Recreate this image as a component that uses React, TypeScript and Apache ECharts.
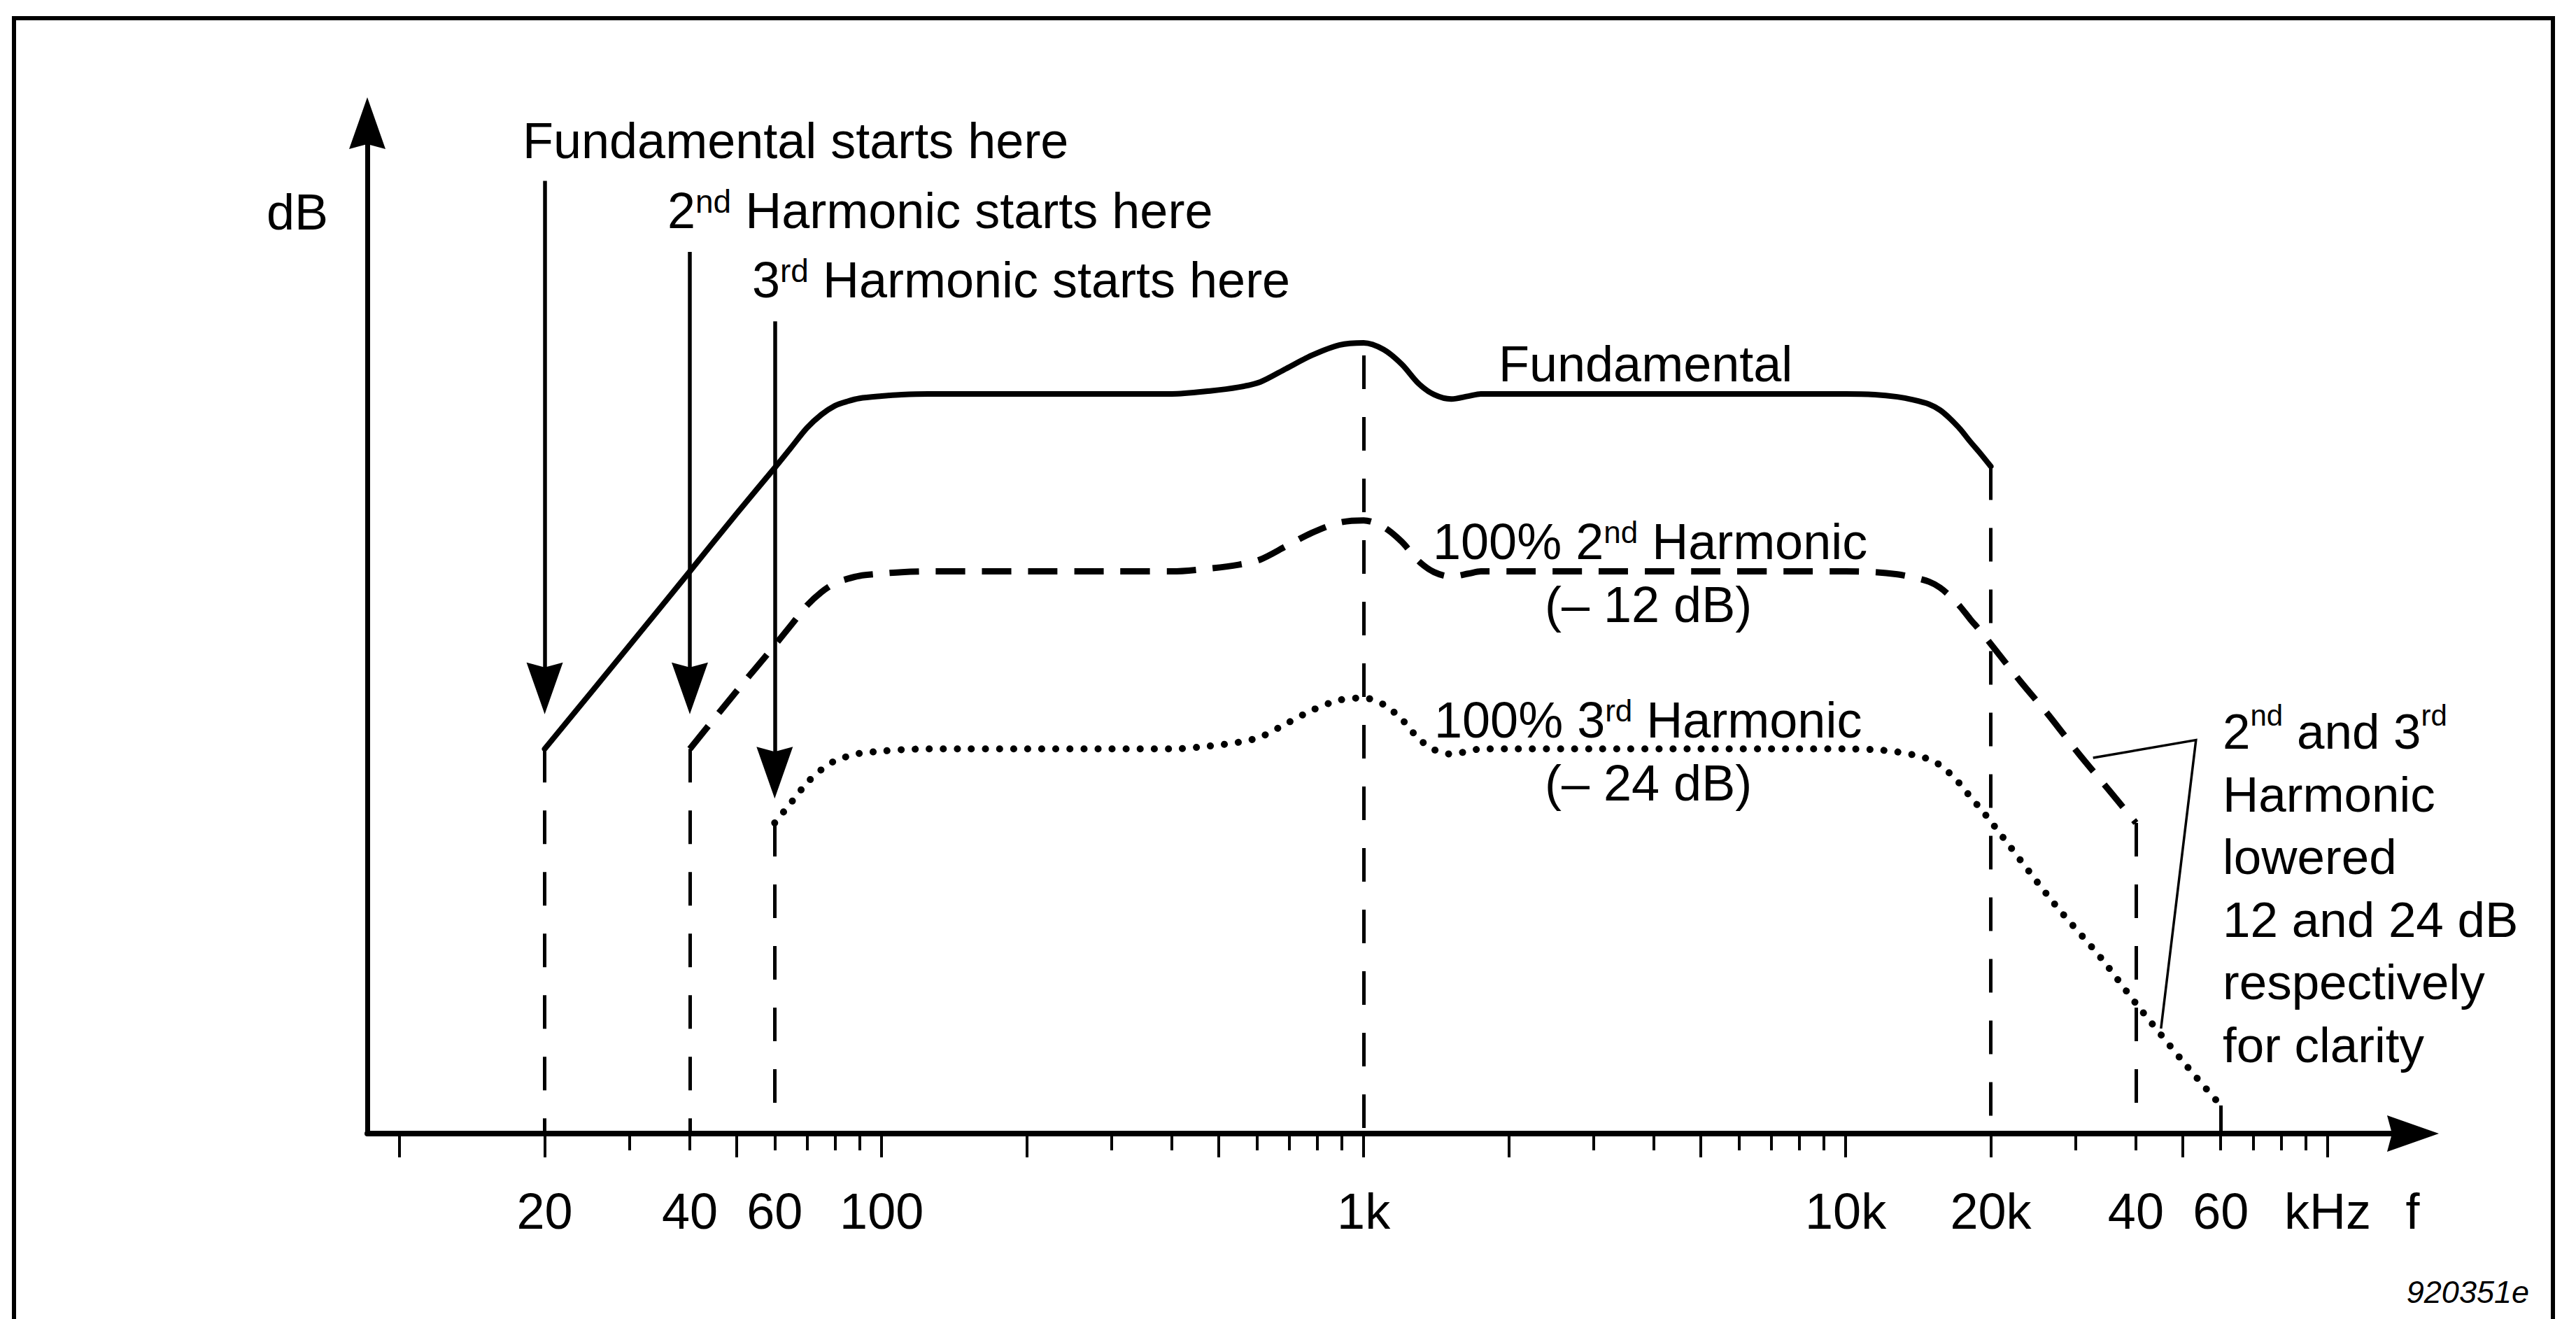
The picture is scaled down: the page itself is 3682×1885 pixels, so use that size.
import React, { useEffect, useRef } from 'react';
import * as echarts from 'echarts';

// ---------- data (frequency in Hz, level in dB above the f-axis) ----------
const FREQ_F = [20, 30, 40, 50, 60, 65, 70, 75, 80, 85, 90, 100, 110, 125, 150, 200, 300, 400, 480, 550, 610, 690, 780, 890, 1000, 1100, 1200, 1300, 1400, 1520, 1650, 1750, 2000, 3000, 5000, 8000, 10000, 11500, 12800, 13800, 14900, 15700, 16500, 17300, 18100, 19000, 20000];
const DB_F = [26.0, 33.0, 38.0, 41.9, 45.0, 46.4, 47.7, 48.6, 49.2, 49.5, 49.7, 49.85, 49.95, 50.0, 50.0, 50.0, 50.0, 50.0, 50.2, 50.45, 50.8, 51.7, 52.6, 53.3, 53.45, 53.0, 52.0, 50.7, 49.95, 49.65, 49.85, 50.0, 50.0, 50.0, 50.0, 50.0, 50.0, 49.95, 49.8, 49.6, 49.3, 48.9, 48.3, 47.6, 46.8, 46.0, 45.1];

const FREQ_H2 = [40, 50, 60, 65, 70, 75, 80, 85, 90, 100, 110, 125, 150, 200, 300, 400, 480, 550, 610, 690, 780, 890, 1000, 1100, 1200, 1300, 1400, 1520, 1650, 1750, 2000, 3000, 5000, 8000, 10000, 11500, 12800, 13800, 14900, 15700, 16500, 17300, 18100, 19000, 20000, 23000, 26500, 30400, 35000, 40000];
const DB_H2 = [26.0, 29.9, 33.0, 34.4, 35.7, 36.6, 37.2, 37.5, 37.7, 37.85, 37.95, 38.0, 38.0, 38.0, 38.0, 38.0, 38.2, 38.45, 38.8, 39.7, 40.6, 41.3, 41.45, 41.0, 40.0, 38.7, 37.95, 37.65, 37.85, 38.0, 38.0, 38.0, 38.0, 38.0, 38.0, 37.95, 37.8, 37.6, 37.3, 36.9, 36.3, 35.6, 34.8, 34.0, 33.1, 30.6, 28.2, 25.7, 23.3, 21.0];

const FREQ_H3 = [60, 65, 70, 75, 80, 85, 90, 100, 110, 125, 150, 200, 300, 400, 480, 550, 610, 690, 780, 890, 1000, 1100, 1200, 1300, 1400, 1520, 1650, 1750, 2000, 3000, 5000, 8000, 10000, 11500, 12800, 13800, 14900, 15700, 16500, 17300, 18100, 19000, 20000, 27000, 34000, 40000, 50000, 60000];
const DB_H3 = [21.0, 22.4, 23.7, 24.6, 25.2, 25.5, 25.7, 25.85, 25.95, 26.0, 26.0, 26.0, 26.0, 26.0, 26.2, 26.45, 26.8, 27.7, 28.6, 29.3, 29.45, 29.0, 28.0, 26.7, 25.95, 25.65, 25.85, 26.0, 26.0, 26.0, 26.0, 26.0, 26.0, 25.95, 25.8, 25.6, 25.3, 24.9, 24.3, 23.6, 22.8, 22.0, 21.1, 15.6, 11.8, 8.8, 4.9, 1.9];

// axis range
const F_MIN = 8.57;
const F_MAX = 150300;
const DB_MAX = 68.3;

// ticks and labels
const LONG_TICKS = [10, 20, 50, 100, 200, 500, 1000, 2000, 5000, 10000, 20000, 50000, 100000];
const SHORT_TICKS = [30, 40, 60, 70, 80, 90, 300, 400, 600, 700, 800, 900, 3000, 4000, 6000, 7000, 8000, 9000, 30000, 40000, 60000, 70000, 80000, 90000];
const LABEL_FREQS = [20, 40, 60, 100, 1000, 10000, 20000, 40000, 60000, 100000, 150000];
const LABEL_TEXTS = ['20', '40', '60', '100', '1k', '10k', '20k', '40', '60', 'kHz', 'f'];

// vertical dashed drop lines: frequency and top level
const DROP_FREQS = [20, 40, 60, 1000, 20000, 40000, 60000];
const DROP_TOPS = [26.0, 26.0, 21.0, 52.6, 45.1, 21.0, 1.9];

// "starts here" arrows
const ARROW_FREQS = [20, 40, 60];
const ARROW_TOPS = [64.4, 59.6, 54.9];
const ARROW_ENDS = [30.1, 30.1, 24.4];

// leader line of the side note
const LEADER_FREQS = [32600, 53300, 45100];
const LEADER_DB = [25.4, 26.6, 7.1];

const FONT = '"Liberation Sans", Arial, Helvetica, sans-serif';
const ARROW = 'path://M26,0L52,74L26,67L0,74Z';

const lg = (f: number) => Math.log10(f);
const pts = (fs: number[], ds: number[]) => fs.map((f, i) => [lg(f), ds[i]]);

function dropMark(idxs: number[]) {
  return {
    silent: true,
    animation: false,
    symbol: ['none', 'none'],
    label: { show: false },
    emphasis: { disabled: true },
    lineStyle: { color: '#000', width: 5, type: [48, 40] },
    data: idxs.map((i) => [
      { coord: [lg(DROP_FREQS[i]), DROP_TOPS[i]] },
      { coord: [lg(DROP_FREQS[i]), 0] },
    ]),
  };
}

function sup(fs: number, lh: number) {
  return { fontSize: fs, lineHeight: lh, verticalAlign: 'top', fontFamily: FONT, fill: '#000' };
}

export default function App() {
  const ref = useRef<HTMLDivElement>(null);

  useEffect(() => {
    if (!ref.current) return;
    const chart = echarts.init(ref.current, null, { renderer: 'svg' });
    const lineBase = {
      type: 'line',
      xAxisIndex: 0,
      yAxisIndex: 0,
      showSymbol: false,
      symbol: 'none',
      smooth: 0.3,
      silent: true,
      animation: false,
      emphasis: { disabled: true },
    };
    const option: any = {
      animation: false,
      backgroundColor: '#fff',
      textStyle: { fontFamily: FONT },
      grid: { left: 525, right: 233, top: 176, bottom: 265, containLabel: false, outerBoundsMode: 'none' },
      xAxis: [
        {
          type: 'value',
          position: 'bottom',
          min: lg(F_MIN),
          max: lg(F_MAX),
          axisLine: {
            show: true,
            onZero: false,
            lineStyle: { color: '#000', width: 8 },
            symbol: ['none', ARROW],
            symbolSize: [52, 74],
          },
          axisTick: {
            show: true,
            customValues: LONG_TICKS.map(lg),
            length: 34,
            lineStyle: { color: '#000', width: 4 },
          },
          axisLabel: {
            show: true,
            customValues: LABEL_FREQS.map(lg),
            formatter: (v: number) => {
              const i = LABEL_FREQS.findIndex((f) => Math.abs(lg(f) - v) < 1e-6);
              return i >= 0 ? LABEL_TEXTS[i] : '';
            },
            margin: 75,
            fontSize: 72,
            lineHeight: 72,
            fontFamily: FONT,
            color: '#000',
          },
          splitLine: { show: false },
        },
        {
          type: 'value',
          position: 'bottom',
          min: lg(F_MIN),
          max: lg(F_MAX),
          axisLine: { show: false, onZero: false },
          axisTick: {
            show: true,
            customValues: SHORT_TICKS.map(lg),
            length: 24,
            lineStyle: { color: '#000', width: 4 },
          },
          axisLabel: { show: false },
          splitLine: { show: false },
        },
      ],
      yAxis: {
        type: 'value',
        min: 0,
        max: DB_MAX,
        axisLine: {
          show: true,
          onZero: false,
          lineStyle: { color: '#000', width: 7 },
          symbol: ['none', ARROW],
          symbolSize: [52, 74],
        },
        axisTick: { show: false },
        axisLabel: { show: false },
        splitLine: { show: false },
      },
      series: [
        {
          ...lineBase,
          name: 'Fundamental',
          data: pts(FREQ_F, DB_F),
          lineStyle: { color: '#000', width: 8, type: 'solid', cap: 'round', join: 'round' },
          markLine: dropMark([0, 3, 4]),
        },
        {
          ...lineBase,
          name: '100% 2nd Harmonic',
          data: pts(FREQ_H2, DB_H2),
          lineStyle: { color: '#000', width: 9, type: [42, 24], cap: 'butt', join: 'round' },
          markLine: dropMark([1, 5]),
        },
        {
          ...lineBase,
          name: '100% 3rd Harmonic',
          data: pts(FREQ_H3, DB_H3),
          lineStyle: { color: '#000', width: 10, type: [0.1, 20], cap: 'round', join: 'round' },
          markLine: dropMark([2, 6]),
        },
        {
          ...lineBase,
          name: 'note',
          smooth: false,
          data: pts(LEADER_FREQS, LEADER_DB),
          lineStyle: { color: '#000', width: 3.5, type: 'solid', join: 'miter' },
          markLine: {
            silent: true,
            animation: false,
            symbol: ['none', ARROW],
            symbolSize: [52, 74],
            label: { show: false },
            emphasis: { disabled: true },
            lineStyle: { color: '#000', width: 5.5, type: 'solid' },
            data: ARROW_FREQS.map((f, i) => [
              { coord: [lg(f), ARROW_TOPS[i]], symbol: 'none' },
              { coord: [lg(f), ARROW_ENDS[i]], symbol: ARROW, symbolSize: [52, 74] },
            ]),
          },
        },
      ],
      graphic: {
        elements: [
          {
            type: 'rect',
            silent: true,
            shape: { x: 20, y: 26, width: 3629, height: 1900 },
            style: { fill: 'none', stroke: '#000', lineWidth: 6 },
          },
          {
            type: 'text', x: 469, y: 303, silent: true,
            style: { text: 'dB', fontSize: 72, fontFamily: FONT, fill: '#000', align: 'right', verticalAlign: 'middle' },
          },
          {
            type: 'text', x: 747, y: 201, silent: true,
            style: { text: 'Fundamental starts here', fontSize: 72, fontFamily: FONT, fill: '#000', align: 'left', verticalAlign: 'middle' },
          },
          {
            type: 'text', x: 954, y: 265, silent: true,
            style: {
              text: '2{s|nd} Harmonic starts here', fontSize: 72, lineHeight: 72, fontFamily: FONT, fill: '#000',
              align: 'left', verticalAlign: 'top', rich: { s: sup(46, 48) },
            },
          },
          {
            type: 'text', x: 1075, y: 364, silent: true,
            style: {
              text: '3{s|rd} Harmonic starts here', fontSize: 72, lineHeight: 72, fontFamily: FONT, fill: '#000',
              align: 'left', verticalAlign: 'top', rich: { s: sup(46, 48) },
            },
          },
          {
            type: 'text', x: 2142, y: 520, silent: true,
            style: { text: 'Fundamental', fontSize: 72, fontFamily: FONT, fill: '#000', align: 'left', verticalAlign: 'middle' },
          },
          {
            type: 'text', x: 2048, y: 738, silent: true,
            style: {
              text: '100% 2{s|nd} Harmonic', fontSize: 72, lineHeight: 72, fontFamily: FONT, fill: '#000',
              align: 'left', verticalAlign: 'top', rich: { s: sup(44, 59) },
            },
          },
          {
            type: 'text', x: 2208, y: 864, silent: true,
            style: { text: '(– 12 dB)', fontSize: 72, fontFamily: FONT, fill: '#000', align: 'left', verticalAlign: 'middle' },
          },
          {
            type: 'text', x: 2050, y: 993, silent: true,
            style: {
              text: '100% 3{s|rd} Harmonic', fontSize: 72, lineHeight: 72, fontFamily: FONT, fill: '#000',
              align: 'left', verticalAlign: 'top', rich: { s: sup(44, 59) },
            },
          },
          {
            type: 'text', x: 2208, y: 1119, silent: true,
            style: { text: '(– 24 dB)', fontSize: 72, fontFamily: FONT, fill: '#000', align: 'left', verticalAlign: 'middle' },
          },
          {
            type: 'text', x: 3177, y: 1001, silent: true,
            style: {
              text: '2{s|nd} and 3{s|rd}\nHarmonic\nlowered\n12 and 24 dB\nrespectively\nfor clarity',
              fontSize: 71, lineHeight: 89.5, fontFamily: FONT, fill: '#000',
              align: 'left', verticalAlign: 'top', rich: { s: sup(42, 64) },
            },
          },
          {
            type: 'text', x: 3615, y: 1846, silent: true,
            style: { text: '920351e', fontSize: 45, fontStyle: 'italic', fontFamily: FONT, fill: '#000', align: 'right', verticalAlign: 'middle' },
          },
        ],
      },
    };
    chart.setOption(option);
    return () => {
      chart.dispose();
    };
  }, []);

  return (
    <div
      ref={ref}
      style={{ position: 'fixed', left: 0, top: 0, width: 3682, height: 1885, background: '#fff' }}
    />
  );
}
